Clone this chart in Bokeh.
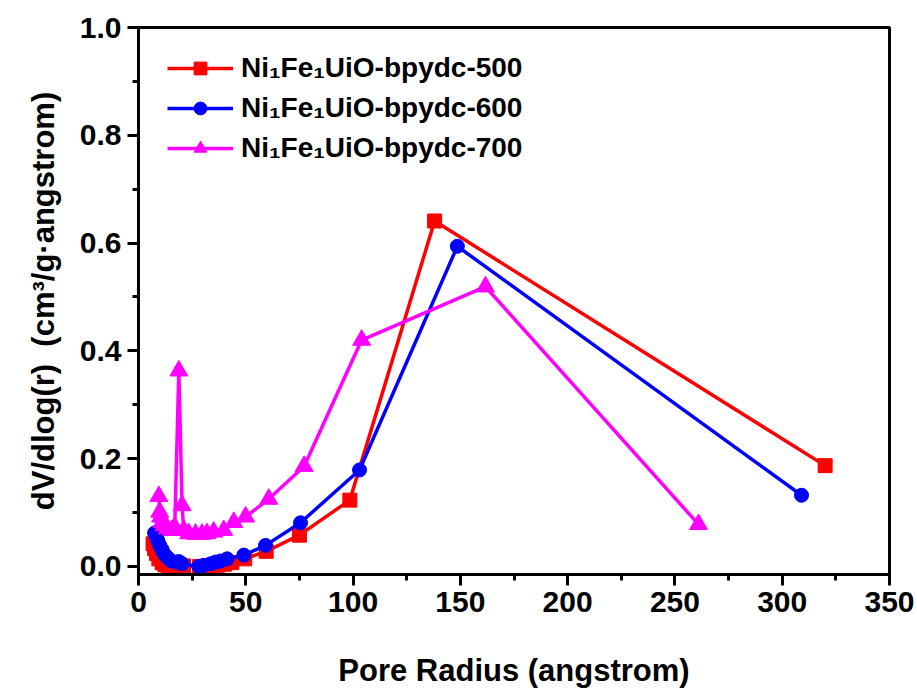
from bokeh.plotting import figure
from bokeh.models import Range1d, Legend, LegendItem, SingleIntervalTicker, PrintfTickFormatter
from bokeh.embed import file_html
from bokeh.resources import INLINE

# ---- data ----
red_x = [6.8, 7.5, 8.4, 9.5, 11.0, 12.3, 13.8, 15.8, 18.5, 21.0, 28.5, 31.0, 33.8, 36.8, 40.0, 43.5, 49.5, 59.5, 75.0, 98.5, 138.0, 320.0]
red_y = [0.042, 0.033, 0.024, 0.014, 0.007, 0.003, 0.001, 0.0, 0.0, 0.001, 0.0, 0.0, 0.001, 0.002, 0.004, 0.007, 0.014, 0.028, 0.058, 0.123, 0.641, 0.187]

blue_x = [7.5, 8.4, 9.0, 9.9, 11.0, 11.8, 13.4, 14.9, 17.2, 18.8, 20.3, 28.1, 30.4, 33.6, 35.9, 38.2, 41.3, 49.1, 59.2, 75.5, 103.0, 148.6, 309.0]
blue_y = [0.062, 0.055, 0.048, 0.039, 0.031, 0.024, 0.017, 0.011, 0.008, 0.009, 0.005, 0.0, 0.002, 0.005, 0.008, 0.010, 0.014, 0.021, 0.039, 0.081, 0.179, 0.594, 0.132]

mag_x = [9.5, 9.9, 10.3, 11.0, 11.8, 13.4, 15.6, 16.9, 18.8, 20.3, 21.1, 23.4, 26.6, 29.6, 31.9, 35.0, 39.7, 44.4, 49.9, 60.7, 77.2, 104.0, 161.7, 261.0]
mag_y = [0.130, 0.101, 0.092, 0.082, 0.076, 0.070, 0.067, 0.073, 0.363, 0.113, 0.067, 0.061, 0.060, 0.060, 0.061, 0.064, 0.067, 0.082, 0.092, 0.125, 0.186, 0.420, 0.519, 0.078]

labels = ["Ni\u2081Fe\u2081UiO-bpydc-500", "Ni\u2081Fe\u2081UiO-bpydc-600", "Ni\u2081Fe\u2081UiO-bpydc-700"]
colors = ["#FF0000", "#0000FF", "#FF00FF"]

FONT = "Liberation Sans"

p = figure(width=917, height=695, output_backend="svg", toolbar_location=None,
           x_range=Range1d(0, 350), y_range=Range1d(-0.015, 1.0),
           min_border_left=138, min_border_right=28, min_border_top=27, min_border_bottom=121)
p.xgrid.visible = False
p.ygrid.visible = False
p.background_fill_color = "white"
p.border_fill_color = "white"
p.outline_line_color = "black"
p.outline_line_width = 3

p.xaxis.ticker = SingleIntervalTicker(interval=50, num_minor_ticks=2)
p.yaxis.ticker = SingleIntervalTicker(interval=0.2, num_minor_ticks=2)
p.yaxis.formatter = PrintfTickFormatter(format="%.1f")

for ax in (p.xaxis[0], p.yaxis[0]):
    ax.axis_line_width = 3
    ax.axis_line_color = "black"
    ax.major_tick_line_width = 3
    ax.minor_tick_line_width = 3
    ax.major_tick_line_color = "black"
    ax.minor_tick_line_color = "black"
    ax.major_tick_out = 11
    ax.major_tick_in = 0
    ax.minor_tick_out = 6
    ax.minor_tick_in = 0
    ax.major_label_text_font = FONT
    ax.major_label_text_font_style = "bold"
    ax.major_label_text_font_size = "30px"
    ax.major_label_text_color = "black"
    ax.axis_label_text_font = FONT
    ax.axis_label_text_font_style = "bold"
    ax.axis_label_text_font_size = "31px"
    ax.axis_label_text_color = "black"

p.xaxis.major_label_standoff = 6
p.yaxis.major_label_standoff = 6
p.xaxis.axis_label = "Pore Radius (angstrom)"
p.yaxis.axis_label = "dV/dlog(r)\u00a0\u00a0(cm\u00b3/g\u00b7angstrom)"
p.xaxis.axis_label_standoff = 38
p.yaxis.axis_label_standoff = 16

items = []
series = [(red_x, red_y, "square", 14), (blue_x, blue_y, "circle", 14), (mag_x, mag_y, "triangle", 18)]
for (xs, ys, mk, sz), lab, c in zip(series, labels, colors):
    l = p.line(xs, ys, line_color=c, line_width=3.5)
    s = p.scatter(xs, ys, marker=mk, size=sz, fill_color=c, line_color=c)
    items.append(LegendItem(label=lab, renderers=[l, s]))

leg = Legend(items=items)
leg.border_line_color = None
leg.background_fill_alpha = 0
leg.label_text_font = FONT
leg.label_text_font_style = "bold"
leg.label_text_font_size = "28px"
leg.label_text_color = "black"
leg.glyph_width = 66
leg.glyph_height = 32
leg.label_standoff = 8
leg.spacing = 8
leg.padding = 0
leg.margin = 0
leg.location = (29, 410)
p.add_layout(leg)

open("out.html", "w").write(file_html(p, INLINE))
